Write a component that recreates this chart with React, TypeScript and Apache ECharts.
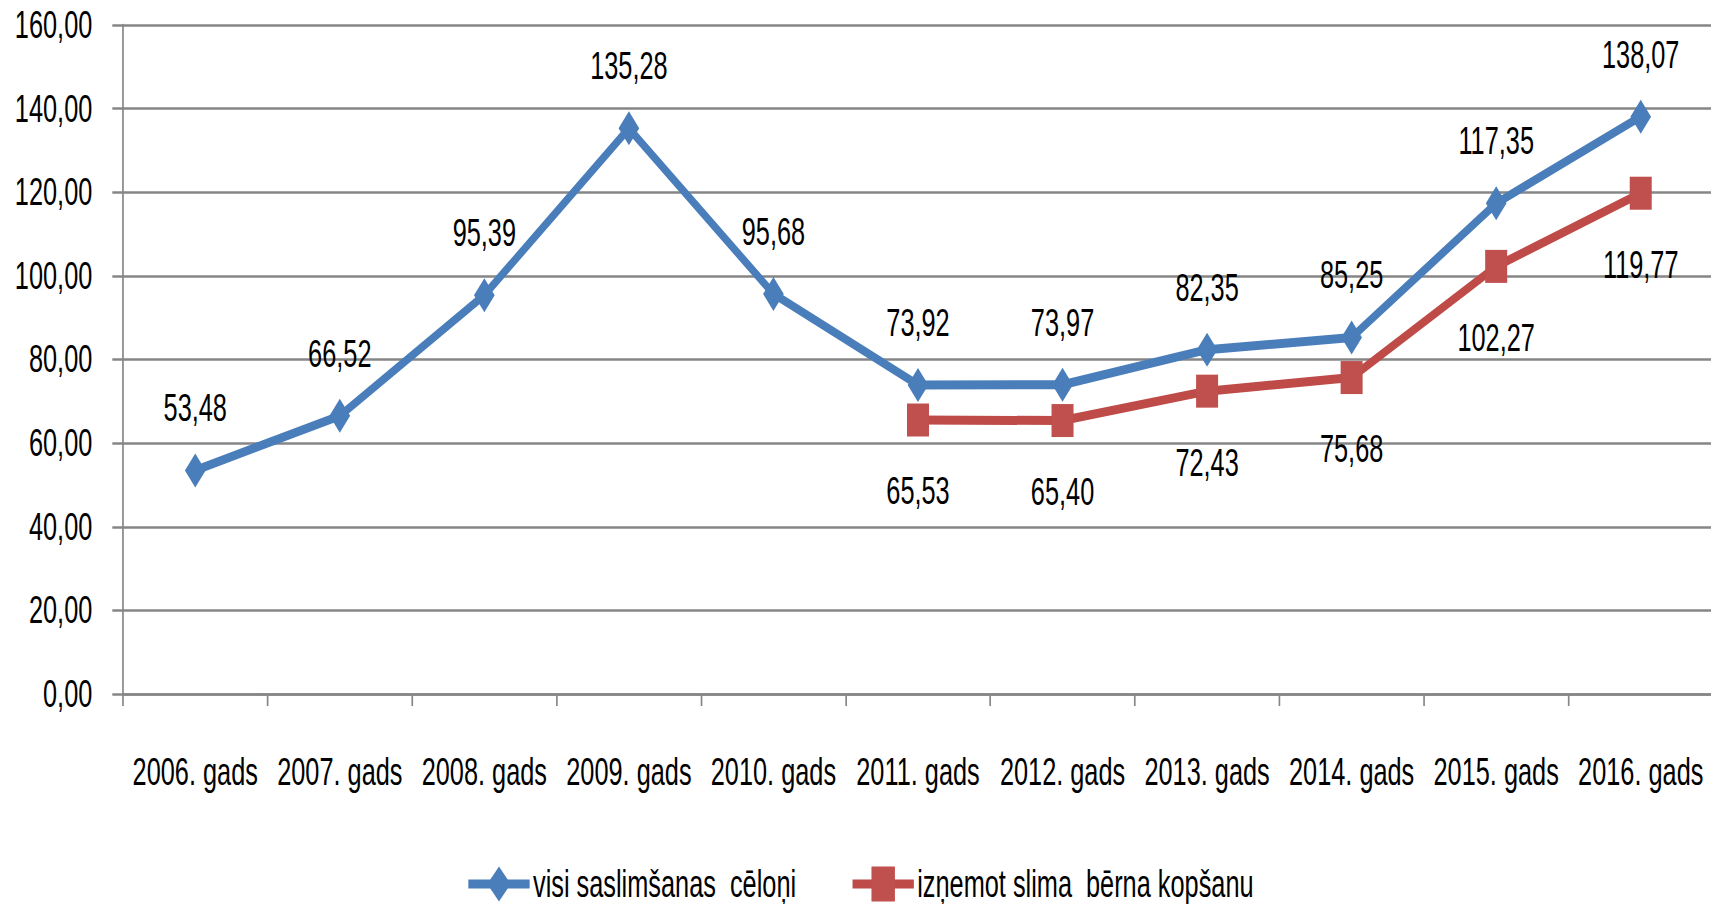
import React, { useEffect, useRef } from "react";
import * as echarts from "echarts";

const categories = [
  "2006. gads", "2007. gads", "2008. gads", "2009. gads", "2010. gads", "2011. gads",
  "2012. gads", "2013. gads", "2014. gads", "2015. gads", "2016. gads",
];
const seriesNames = ["visi saslimšanas  cēloņi", "izņemot slima  bērna kopšanu"];
const allCauses = [53.48, 66.52, 95.39, 135.28, 95.68, 73.92, 73.97, 82.35, 85.25, 117.35, 138.07];
const exceptChildCare = [null, null, null, null, null, 65.53, 65.4, 72.43, 75.68, 102.27, 119.77];
const yMin = 0;
const yMax = 160;
const yInterval = 20;

// The reference is horizontally compressed; draw wider and compress the same way.
const OUT_W = 1719;
const OUT_H = 912;
const K = 2 / 3;
const W = Math.round(OUT_W / K);
const FONT = "'Liberation Sans', Arial, sans-serif";
const FS = 38;
const fmt = (v: number) => v.toFixed(2).replace(".", ",");

export default function App() {
  const ref = useRef<HTMLDivElement>(null);
  useEffect(() => {
    if (!ref.current) return;
    const chart = echarts.init(ref.current, undefined, { renderer: "svg" });
    chart.setOption({
      animation: false,
      textStyle: { fontFamily: FONT },
      grid: { left: 123 / K, top: 25, right: 6 / K, bottom: 218, containLabel: false },
      legend: {
        top: 860,
        left: "center",
        itemWidth: 92,
        itemHeight: 44,
        itemGap: 80,
        lineStyle: { width: 9 },
        textStyle: { fontFamily: FONT, fontSize: FS, color: "#000" },
        data: seriesNames,
      },
      xAxis: {
        type: "category",
        data: categories,
        boundaryGap: true,
        axisLine: { lineStyle: { color: "#868686", width: 2.5 } },
        axisTick: { show: true, length: 12, lineStyle: { color: "#868686", width: 2.5 } },
        axisLabel: { fontFamily: FONT, fontSize: FS, color: "#000", margin: 59, interval: 0 },
        splitLine: { show: false },
      },
      yAxis: {
        type: "value",
        min: yMin,
        max: yMax,
        interval: yInterval,
        axisLine: { show: true, lineStyle: { color: "#868686", width: 2.5 } },
        axisTick: { show: true, length: 16, lineStyle: { color: "#868686", width: 2.5 } },
        axisLabel: { fontFamily: FONT, fontSize: FS, color: "#000", margin: 46, formatter: (v: number) => fmt(v) },
        splitLine: { show: true, lineStyle: { color: "#868686", width: 2.5 } },
      },
      series: [
        {
          name: seriesNames[0],
          type: "line",
          data: allCauses,
          symbol: "diamond",
          symbolSize: [31, 34],
          itemStyle: { color: "#4A7EBB" },
          lineStyle: { color: "#4A7EBB", width: 9 },
          label: {
            show: true,
            position: "top",
            distance: 26,
            fontFamily: FONT,
            fontSize: FS,
            color: "#000",
            formatter: (p: any) => fmt(p.value),
          },
          z: 3,
        },
        {
          name: seriesNames[1],
          type: "line",
          data: exceptChildCare,
          symbol: "rect",
          symbolSize: [33, 33],
          itemStyle: { color: "#C0504D" },
          lineStyle: { color: "#BE4B48", width: 9 },
          label: {
            show: true,
            position: "bottom",
            distance: 36,
            fontFamily: FONT,
            fontSize: FS,
            color: "#000",
            formatter: (p: any) => (p.value == null ? "" : fmt(p.value)),
          },
          z: 2,
        },
      ],
    });
    return () => chart.dispose();
  }, []);
  return (
    <div style={{ width: OUT_W, height: OUT_H, margin: -8, overflow: "hidden", background: "#fff" }}>
      <div
        ref={ref}
        style={{ width: W, height: OUT_H, transform: `scaleX(${OUT_W / W})`, transformOrigin: "0 0" }}
      />
    </div>
  );
}
